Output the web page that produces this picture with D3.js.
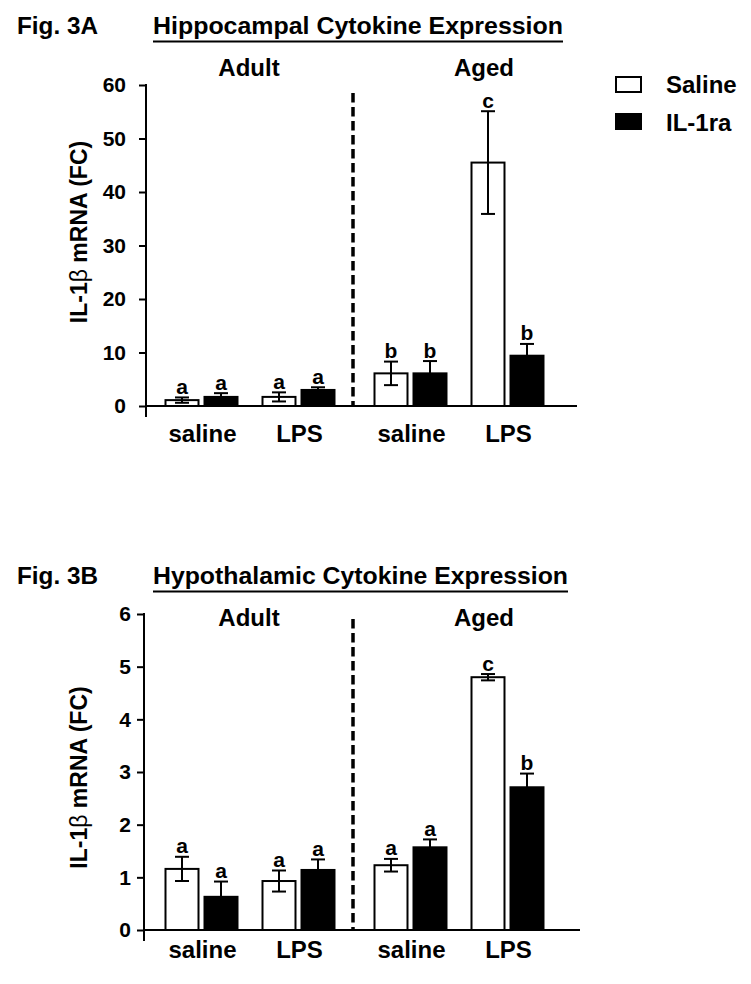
<!DOCTYPE html>
<html>
<head>
<meta charset="utf-8">
<script src="https://cdn.jsdelivr.net/npm/d3@7"></script>
<style>
  html, body { margin: 0; padding: 0; background: #fff; }
  svg { display: block; font-family: Arial, "Liberation Sans", sans-serif; font-weight: bold; }
</style>
</head>
<body>
<svg id="chart" width="751" height="984"></svg>
<script>
// ---- data ----
const conditions = ["Adult saline", "Adult LPS", "Aged saline", "Aged LPS"];
const categoryLabels = ["saline", "LPS", "saline", "LPS"];
const groupLabels = ["Adult", "Aged"];
const seriesNames = ["Saline", "IL-1ra"];

// Fig. 3A hippocampus
const hippoTicks = [0, 10, 20, 30, 40, 50, 60];
const hippoSaline = [1.1, 1.7, 6.1, 45.5];
const hippoSalineErr = [0.5, 0.85, 2.2, 9.6];
const hippoIL1ra = [1.7, 3.0, 6.1, 9.4];
const hippoIL1raErr = [0.7, 0.5, 2.3, 2.2];
const hippoSalineLetters = ["a", "a", "b", "c"];
const hippoIL1raLetters = ["a", "a", "b", "b"];

// Fig. 3B hypothalamus
const hypoTicks = [0, 1, 2, 3, 4, 5, 6];
const hypoSaline = [1.16, 0.93, 1.23, 4.80];
const hypoSalineErr = [0.23, 0.2, 0.12, 0.06];
const hypoIL1ra = [0.63, 1.14, 1.57, 2.71];
const hypoIL1raErr = [0.29, 0.2, 0.15, 0.26];
const hypoSalineLetters = ["a", "a", "a", "c"];
const hypoIL1raLetters = ["a", "a", "a", "b"];

const svg = d3.select("#chart");
const FONT = 'Arial, "Liberation Sans", sans-serif';

// shared x layout
const x = d3.scaleBand().domain(conditions).range([153, 541]);
const agedShift = 15;
const inner = d3.scaleBand().domain(seriesNames).range([-48, 48])
  .paddingInner(0.154).paddingOuter(0.3077);
function center(i) {
  return x(conditions[i]) + x.bandwidth() / 2 + (i >= 2 ? agedShift : 0);
}

function drawPanel(opt) {
  const g = svg.append("g");
  const y = d3.scaleLinear().domain([0, d3.max(opt.ticks)]).range([opt.y0, opt.yTop]);

  // titles
  g.append("text").attr("x", 17).attr("y", opt.titleY)
    .attr("font-size", 23).attr("textLength", 81).attr("lengthAdjust", "spacingAndGlyphs")
    .text(opt.fig);
  g.append("text").attr("x", 153).attr("y", opt.titleY)
    .attr("font-size", 23).attr("textLength", opt.titleLen).attr("lengthAdjust", "spacingAndGlyphs")
    .text(opt.title);
  g.append("line").attr("x1", 153).attr("x2", 153 + opt.titleLen)
    .attr("y1", opt.titleY + 7.5).attr("y2", opt.titleY + 7.5)
    .attr("stroke", "#000").attr("stroke-width", 2);

  // y axis
  const axis = d3.axisLeft(y).tickValues(opt.ticks).tickSize(7).tickPadding(opt.tickPad)
    .tickFormat(d3.format("d"));
  const ag = g.append("g").attr("transform", `translate(${opt.axisX},0)`).call(axis);
  ag.attr("font-size", null).attr("font-family", null);
  ag.select(".domain").remove();
  ag.selectAll(".tick line").attr("stroke", "#000").attr("stroke-width", 2);
  ag.selectAll(".tick text").attr("font-size", 21).attr("font-family", FONT)
    .attr("font-weight", "bold").attr("fill", "#000");
  g.append("line").attr("x1", opt.axisX).attr("x2", opt.axisX)
    .attr("y1", y(d3.max(opt.ticks)) - 1).attr("y2", opt.y0 + 11)
    .attr("stroke", "#000").attr("stroke-width", 2);
  // baseline
  g.append("line").attr("x1", opt.axisX).attr("x2", opt.xEnd)
    .attr("y1", opt.y0).attr("y2", opt.y0)
    .attr("stroke", "#000").attr("stroke-width", 2);

  // y title
  const yt = g.append("text")
    .attr("transform", `translate(87,${opt.yTitleY}) rotate(-90)`)
    .attr("text-anchor", "middle").attr("font-size", 23);
  yt.append("tspan").text("IL-1");
  yt.append("tspan").attr("font-weight", "normal").text("β");
  yt.append("tspan").text(" mRNA (FC)");

  // dashed separator
  const sepX = (center(1) + center(2)) / 2 - 1.5;
  g.append("line").attr("x1", sepX).attr("x2", sepX)
    .attr("y1", opt.dashTop).attr("y2", opt.y0)
    .attr("stroke", "#000").attr("stroke-width", 3.5).attr("stroke-dasharray", "9.5,4.5");

  // group labels
  g.append("text").attr("x", 249).attr("y", opt.groupY).attr("text-anchor", "middle")
    .attr("font-size", 24).text(groupLabels[0]);
  g.append("text").attr("x", 484).attr("y", opt.groupY).attr("text-anchor", "middle")
    .attr("font-size", 24).text(groupLabels[1]);

  // category labels
  g.selectAll(".cat").data(categoryLabels).join("text")
    .attr("x", (d, i) => center(i) + 1).attr("y", opt.catY)
    .attr("text-anchor", "middle").attr("font-size", 24).text(d => d);

  // bars
  const rows = [];
  const vals = [opt.saline, opt.il1ra], errs = [opt.salineErr, opt.il1raErr],
        lets = [opt.salineLet, opt.il1raLet];
  seriesNames.forEach((s, si) => {
    conditions.forEach((c, ci) => {
      rows.push({ s, si, ci, v: vals[si][ci], e: errs[si][ci], l: lets[si][ci] });
    });
  });
  g.selectAll(".bar").data(rows).join("rect")
    .attr("x", d => center(d.ci) + inner(d.s))
    .attr("width", inner.bandwidth())
    .attr("y", d => y(d.v))
    .attr("height", d => opt.y0 - y(d.v))
    .attr("fill", d => d.si === 0 ? "#fff" : "#000")
    .attr("stroke", "#000").attr("stroke-width", 2);

  // error bars
  const cap = 7;
  const eg = g.selectAll(".err").data(rows).join("g")
    .attr("stroke", "#000").attr("stroke-width", 2);
  const cxOf = d => center(d.ci) + inner(d.s) + inner.bandwidth() / 2;
  eg.append("line").attr("x1", cxOf).attr("x2", cxOf)
    .attr("y1", d => y(d.v + d.e)).attr("y2", d => y(Math.max(0, d.v - d.e)));
  eg.append("line").attr("x1", d => cxOf(d) - cap).attr("x2", d => cxOf(d) + cap)
    .attr("y1", d => y(d.v + d.e)).attr("y2", d => y(d.v + d.e));
  eg.append("line").attr("x1", d => cxOf(d) - cap).attr("x2", d => cxOf(d) + cap)
    .attr("y1", d => y(Math.max(0, d.v - d.e))).attr("y2", d => y(Math.max(0, d.v - d.e)));

  // letters
  g.selectAll(".let").data(rows).join("text")
    .attr("x", cxOf).attr("y", d => y(d.v + d.e) - 3.5)
    .attr("text-anchor", "middle").attr("font-size", 21).text(d => d.l);
}

drawPanel({
  fig: "Fig. 3A", title: "Hippocampal Cytokine Expression", titleY: 34, titleLen: 410,
  ticks: hippoTicks, y0: 406, yTop: 85, axisX: 146, xEnd: 577, tickPad: 13,
  yTitleY: 232, dashTop: 93, groupY: 76, catY: 441.5,
  saline: hippoSaline, salineErr: hippoSalineErr, il1ra: hippoIL1ra, il1raErr: hippoIL1raErr,
  salineLet: hippoSalineLetters, il1raLet: hippoIL1raLetters
});

drawPanel({
  fig: "Fig. 3B", title: "Hypothalamic Cytokine Expression", titleY: 584, titleLen: 415,
  ticks: hypoTicks, y0: 930, yTop: 614, axisX: 144, xEnd: 580, tickPad: 6,
  yTitleY: 777.5, dashTop: 619, groupY: 626, catY: 958,
  saline: hypoSaline, salineErr: hypoSalineErr, il1ra: hypoIL1ra, il1raErr: hypoIL1raErr,
  salineLet: hypoSalineLetters, il1raLet: hypoIL1raLetters
});

// legend
const legend = svg.append("g");
seriesNames.forEach((s, i) => {
  legend.append("rect").attr("x", 616).attr("y", 77 + i * 37).attr("width", 25).attr("height", 15)
    .attr("fill", i === 0 ? "#fff" : "#000").attr("stroke", "#000").attr("stroke-width", 2);
  legend.append("text").attr("x", 666).attr("y", 93 + i * 37.5).attr("font-size", 24).text(s);
});
</script>
</body>
</html>
